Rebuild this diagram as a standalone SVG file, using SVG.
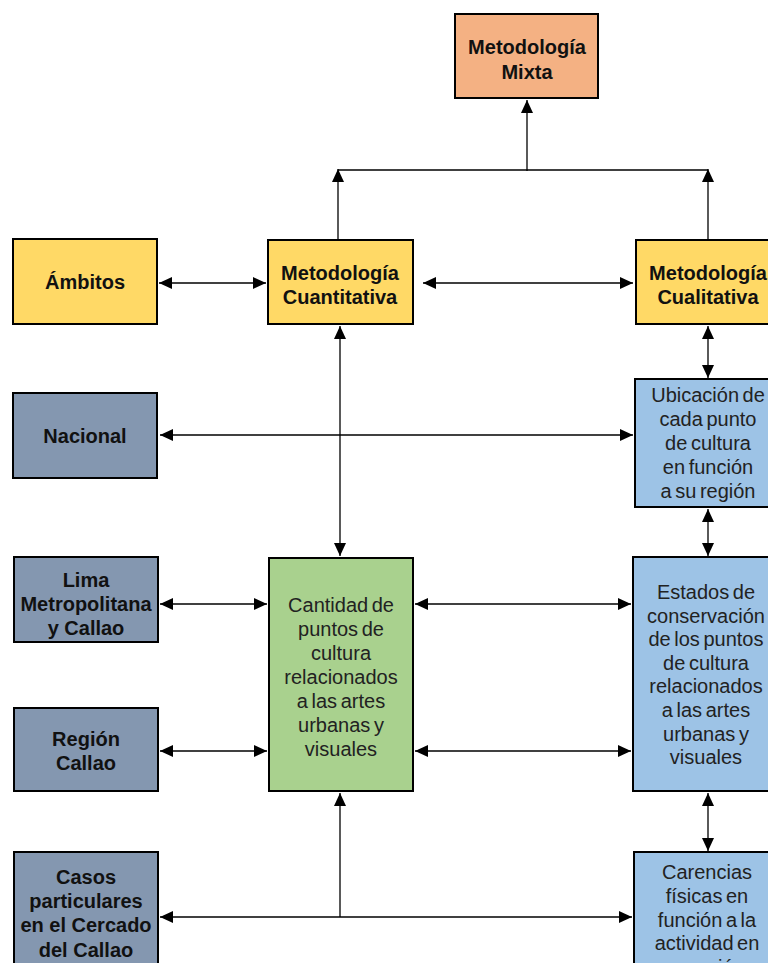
<svg xmlns="http://www.w3.org/2000/svg" width="768" height="963" viewBox="0 0 768 963">
<style>
.box{stroke:#000;stroke-width:2}
.mix{fill:#F4B183}
.yel{fill:#FFD966}
.sla{fill:#8497B0}
.grn{fill:#A9D18E}
.blu{fill:#9DC3E6}
.b{font-family:"Liberation Sans",Arial,sans-serif;font-size:20px;font-weight:bold;fill:#111;text-anchor:middle}
.r{font-family:"Liberation Sans",Arial,sans-serif;font-size:20px;fill:#222;text-anchor:middle;word-spacing:-2px}
.c{fill:none;stroke:#000;stroke-width:1.3}
</style>
<defs>
<marker id="ah" markerUnits="userSpaceOnUse" markerWidth="14" markerHeight="13" refX="13" refY="6" orient="auto-start-reverse">
<path d="M0,0 L13,6 L0,12 z" fill="#000"/>
</marker>
</defs>
<rect width="768" height="963" fill="#fff"/>

<g id="connectors">
<path class="c" d="M527,171 L527,100" marker-end="url(#ah)"/>
<path class="c" d="M338,170 L708,170"/>
<path class="c" d="M338,240 L338,169" marker-end="url(#ah)"/>
<path class="c" d="M708,240 L708,169" marker-end="url(#ah)"/>
<path class="c" d="M159,283 L266,283" marker-start="url(#ah)" marker-end="url(#ah)"/>
<path class="c" d="M423,283 L633,283" marker-start="url(#ah)" marker-end="url(#ah)"/>
<path class="c" d="M160,435 L633,435" marker-start="url(#ah)" marker-end="url(#ah)"/>
<path class="c" d="M708,326 L708,378" marker-start="url(#ah)" marker-end="url(#ah)"/>
<path class="c" d="M340,326 L340,556" marker-start="url(#ah)" marker-end="url(#ah)"/>
<path class="c" d="M708,509 L708,556" marker-start="url(#ah)" marker-end="url(#ah)"/>
<path class="c" d="M160,604 L267,604" marker-start="url(#ah)" marker-end="url(#ah)"/>
<path class="c" d="M160,751 L267,751" marker-start="url(#ah)" marker-end="url(#ah)"/>
<path class="c" d="M415,604 L631,604" marker-start="url(#ah)" marker-end="url(#ah)"/>
<path class="c" d="M415,751 L631,751" marker-start="url(#ah)" marker-end="url(#ah)"/>
<path class="c" d="M708,793 L708,851" marker-start="url(#ah)" marker-end="url(#ah)"/>
<path class="c" d="M160,917 L632,917" marker-start="url(#ah)" marker-end="url(#ah)"/>
<path class="c" d="M340,917 L340,793" marker-end="url(#ah)"/>
</g>

<g id="mixta">
<rect class="box mix" x="455" y="14" width="143" height="84"/>
<text class="b" x="527" y="54">Metodología</text>
<text class="b" x="527" y="79">Mixta</text>
</g>

<g id="ambitos">
<rect class="box yel" x="13" y="239" width="144" height="85"/>
<text class="b" x="85" y="289">Ámbitos</text>
</g>

<g id="cuantitativa">
<rect class="box yel" x="268" y="240" width="145" height="84"/>
<text class="b" x="340" y="280">Metodología</text>
<text class="b" x="340" y="304">Cuantitativa</text>
</g>

<g id="cualitativa">
<rect class="box yel" x="636" y="240" width="145" height="84"/>
<text class="b" x="708" y="280">Metodología</text>
<text class="b" x="708" y="304">Cualitativa</text>
</g>

<g id="nacional">
<rect class="box sla" x="13" y="393" width="144" height="85"/>
<text class="b" x="85" y="443">Nacional</text>
</g>

<g id="ubicacion">
<rect class="box blu" x="635" y="379" width="145" height="128"/>
<text class="r" x="708" y="402">Ubicación de</text>
<text class="r" x="708" y="426">cada punto</text>
<text class="r" x="708" y="450">de cultura</text>
<text class="r" x="708" y="474">en función</text>
<text class="r" x="708" y="498">a su región</text>
</g>

<g id="lima">
<rect class="box sla" x="14" y="557" width="144" height="85"/>
<text class="b" x="86" y="587">Lima</text>
<text class="b" x="86" y="611">Metropolitana</text>
<text class="b" x="86" y="635">y Callao</text>
</g>

<g id="cantidad">
<rect class="box grn" x="269" y="558" width="144" height="233"/>
<text class="r" x="341" y="612">Cantidad de</text>
<text class="r" x="341" y="636">puntos de</text>
<text class="r" x="341" y="660">cultura</text>
<text class="r" x="341" y="684">relacionados</text>
<text class="r" x="341" y="708">a las artes</text>
<text class="r" x="341" y="732">urbanas y</text>
<text class="r" x="341" y="756">visuales</text>
</g>

<g id="estados">
<rect class="box blu" x="633" y="557" width="146" height="234"/>
<text class="r" x="706" y="599">Estados de</text>
<text class="r" x="706" y="623">conservación</text>
<text class="r" x="706" y="646">de los puntos</text>
<text class="r" x="706" y="670">de cultura</text>
<text class="r" x="706" y="693">relacionados</text>
<text class="r" x="706" y="717">a las artes</text>
<text class="r" x="706" y="741">urbanas y</text>
<text class="r" x="706" y="764">visuales</text>
</g>

<g id="region">
<rect class="box sla" x="14" y="708" width="144" height="83"/>
<text class="b" x="86" y="746">Región</text>
<text class="b" x="86" y="770">Callao</text>
</g>

<g id="casos">
<rect class="box sla" x="14" y="852" width="144" height="130"/>
<text class="b" x="86" y="884">Casos</text>
<text class="b" x="86" y="908">particulares</text>
<text class="b" x="86" y="932">en el Cercado</text>
<text class="b" x="86" y="957">del Callao</text>
</g>

<g id="carencias">
<rect class="box blu" x="634" y="852" width="146" height="130"/>
<text class="r" x="707" y="879">Carencias</text>
<text class="r" x="707" y="903">físicas en</text>
<text class="r" x="707" y="927">función a la</text>
<text class="r" x="707" y="950">actividad en</text>
<text class="r" x="707" y="974">mención</text>
</g>
</svg>
